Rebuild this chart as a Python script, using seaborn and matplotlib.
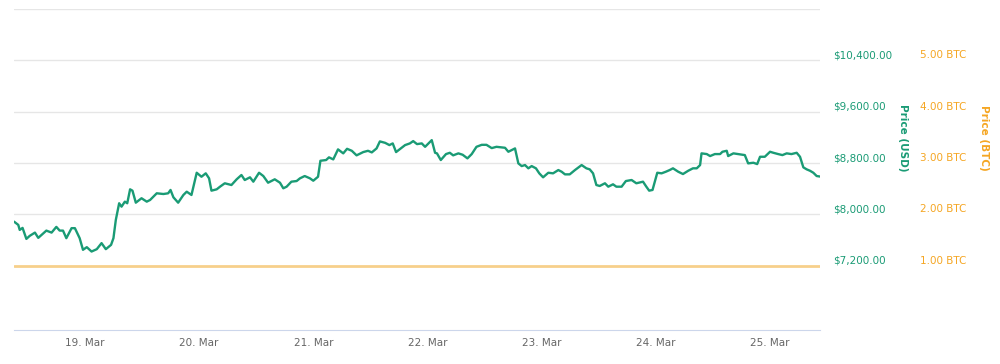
import pandas as pd
import numpy as np
import matplotlib
matplotlib.use('Agg')
import matplotlib.pyplot as plt
import matplotlib.dates as mdates
import seaborn as sns

# hours after 19 Mar 2018 00:00 and the USD price
hours = [-14.9, -14.0, -13.7, -13.1, -12.3, -11.6, -10.5, -9.8, -8.1, -7.0,
         -6.0, -5.3, -4.6, -3.9, -2.8, -2.1, -1.1, -0.4, 0.4, 1.4,
         2.5, 3.5, 4.4, 5.5, 6.0, 6.5, 7.2, 7.7, 8.4, 8.9,
         9.5, 10.0, 10.7, 11.9, 13.0, 13.7, 15.1, 16.5, 17.5, 18.0,
         18.6, 19.6, 20.7, 21.4, 22.4, 22.9, 23.5, 24.5, 25.4, 26.1,
         26.6, 27.7, 28.4, 29.4, 30.8, 31.9, 32.9, 33.6, 34.7, 35.4,
         36.6, 37.5, 38.5, 39.9, 41.0, 41.7, 42.4, 43.4, 44.5, 45.2,
         46.2, 47.3, 48.0, 49.0, 49.5, 50.7, 51.3, 52.2, 53.2, 54.3,
         55.1, 56.1, 57.1, 58.5, 59.5, 60.3, 61.3, 62.0, 63.1, 64.0,
         64.7, 65.4, 66.2, 67.3, 68.3, 69.0, 69.8, 70.8, 71.5, 72.2,
         72.9, 73.6, 74.0, 74.8, 75.9, 76.7, 77.4, 78.5, 79.4, 80.4,
         81.3, 82.3, 83.4, 84.4, 85.5, 86.5, 88.3, 89.0, 90.4, 91.1,
         91.8, 92.5, 93.2, 93.9, 94.8, 95.5, 96.3, 97.4, 98.4, 99.5,
         100.2, 100.9, 101.9, 103.0, 104.4, 105.4, 106.1, 106.8, 107.5, 108.2,
         109.3, 110.0, 111.0, 111.7, 112.8, 113.7, 114.9, 115.9, 117.3, 118.0,
         118.6, 119.3, 120.3, 121.2, 122.1, 122.9, 123.6, 124.7, 125.7, 126.8,
         127.8, 128.6, 129.3, 129.6, 130.7, 131.4, 132.4, 133.5, 134.0, 134.9,
         135.2, 136.3, 137.3, 138.7, 139.4, 140.5, 141.3, 141.9, 142.9, 144.0,
         144.7, 145.7, 146.6, 147.5, 148.5, 149.6, 150.3, 151.0, 151.7, 152.4,
         153.1, 153.8, 154.5]
usd_price = [7888, 7837, 7759, 7790, 7619, 7666, 7717, 7635, 7748, 7717,
             7806, 7748, 7748, 7630, 7786, 7786, 7630, 7449, 7490, 7422,
             7459, 7553, 7459, 7526, 7630, 7915, 8174, 8121, 8199, 8174,
             8391, 8370, 8183, 8252, 8199, 8225, 8329, 8318, 8329, 8381,
             8267, 8183, 8303, 8354, 8303, 8458, 8649, 8587, 8640, 8562,
             8370, 8391, 8432, 8485, 8458, 8547, 8614, 8536, 8578, 8510,
             8649, 8598, 8494, 8547, 8494, 8407, 8432, 8510, 8520, 8562,
             8598, 8562, 8525, 8587, 8836, 8847, 8889, 8857, 9013, 8951,
             9022, 8991, 8920, 8971, 8991, 8966, 9028, 9137, 9115, 9080,
             9106, 8971, 9017, 9080, 9106, 9142, 9095, 9106, 9053, 9106,
             9157, 8960, 8951, 8847, 8940, 8960, 8920, 8951, 8929, 8873,
             8940, 9053, 9084, 9084, 9033, 9053, 9038, 8976, 9028, 8795,
             8753, 8769, 8718, 8753, 8718, 8640, 8578, 8649, 8640, 8691,
             8665, 8624, 8624, 8691, 8769, 8718, 8702, 8640, 8458, 8443,
             8485, 8432, 8469, 8432, 8432, 8520, 8536, 8485, 8510, 8432,
             8370, 8381, 8649, 8640, 8665, 8691, 8718, 8665, 8629, 8680,
             8718, 8718, 8769, 8951, 8940, 8909, 8940, 8940, 8976, 8991,
             8909, 8951, 8940, 8924, 8795, 8805, 8784, 8898, 8898, 8976,
             8960, 8940, 8924, 8951, 8940, 8960, 8898, 8733, 8702, 8680,
             8649, 8598, 8590]
btc_price = [1.0] * len(hours)

usd_ticks = [7200, 8000, 8800, 9600, 10400]
btc_ticks = [1, 2, 3, 4, 5]

green = '#1a9b75'
orange = '#f5a623'

start = pd.Timestamp('2018-03-19')
df = pd.DataFrame({
    'time': start + pd.to_timedelta(hours, unit='h'),
    'usd': usd_price,
    'btc': btc_price,
})

sns.set_style('white')
plt.rcParams['font.family'] = ['DejaVu Sans']

fig = plt.figure(figsize=(10, 3.64), dpi=100)
ax = fig.add_axes([0.014, 0.0934, 0.806, 0.882])
ax2 = ax.twinx()

sns.lineplot(data=df, x='time', y='btc', ax=ax2, color='#f5c46e', alpha=0.8,
             linewidth=2.0, zorder=2)
sns.lineplot(data=df, x='time', y='usd', ax=ax, color=green, linewidth=1.7, zorder=3)
ax.set_zorder(ax2.get_zorder() + 1)
ax.patch.set_visible(False)

ax.set_xlim(df['time'].iloc[0], df['time'].iloc[-1])
ax.set_ylim(6200, 11200)
ax2.set_ylim(-0.25, 6.0)

# grid
ax.set_yticks([8000, 8800, 9600, 10400, 11200])
ax.grid(axis='y', color='#e6e6e6', linewidth=1)
ax.grid(axis='x', visible=False)
ax.tick_params(axis='y', left=False, labelleft=False, right=False)
ax2.set_yticks([])

for s in ['left', 'right', 'top']:
    ax.spines[s].set_visible(False)
    ax2.spines[s].set_visible(False)
ax.spines['bottom'].set_color('#ccd6eb')
ax2.spines['bottom'].set_visible(False)

ax.xaxis.set_major_locator(mdates.DayLocator())
ax.xaxis.set_major_formatter(mdates.DateFormatter('%d. %b'))
ax.tick_params(axis='x', colors='#ccd6eb', length=5, width=1, pad=1,
               labelcolor='#666666', labelsize=7.5)
ax.set_xlabel('')
ax.set_ylabel('')
ax2.set_ylabel('')

# right-hand axis labels
for v in usd_ticks:
    ax.annotate('${:,.2f}'.format(v), xy=(1, v), xycoords=('axes fraction', 'data'),
                xytext=(13, 5), textcoords='offset pixels', ha='left', va='center',
                color=green, fontsize=7.5)
for v in btc_ticks:
    ax2.annotate('{:.2f} BTC'.format(v), xy=(1, v), xycoords=('axes fraction', 'data'),
                 xytext=(100, 5), textcoords='offset pixels', ha='left', va='center',
                 color=orange, fontsize=7.5)

fig.text(0.903, 1 - 137.5 / 364, 'Price (USD)', rotation=270, ha='center', va='center',
         color=green, fontsize=7.5, fontweight='bold')
fig.text(0.984, 1 - 137.5 / 364, 'Price (BTC)', rotation=270, ha='center', va='center',
         color=orange, fontsize=7.5, fontweight='bold')

fig.savefig('out.png', dpi=100)
